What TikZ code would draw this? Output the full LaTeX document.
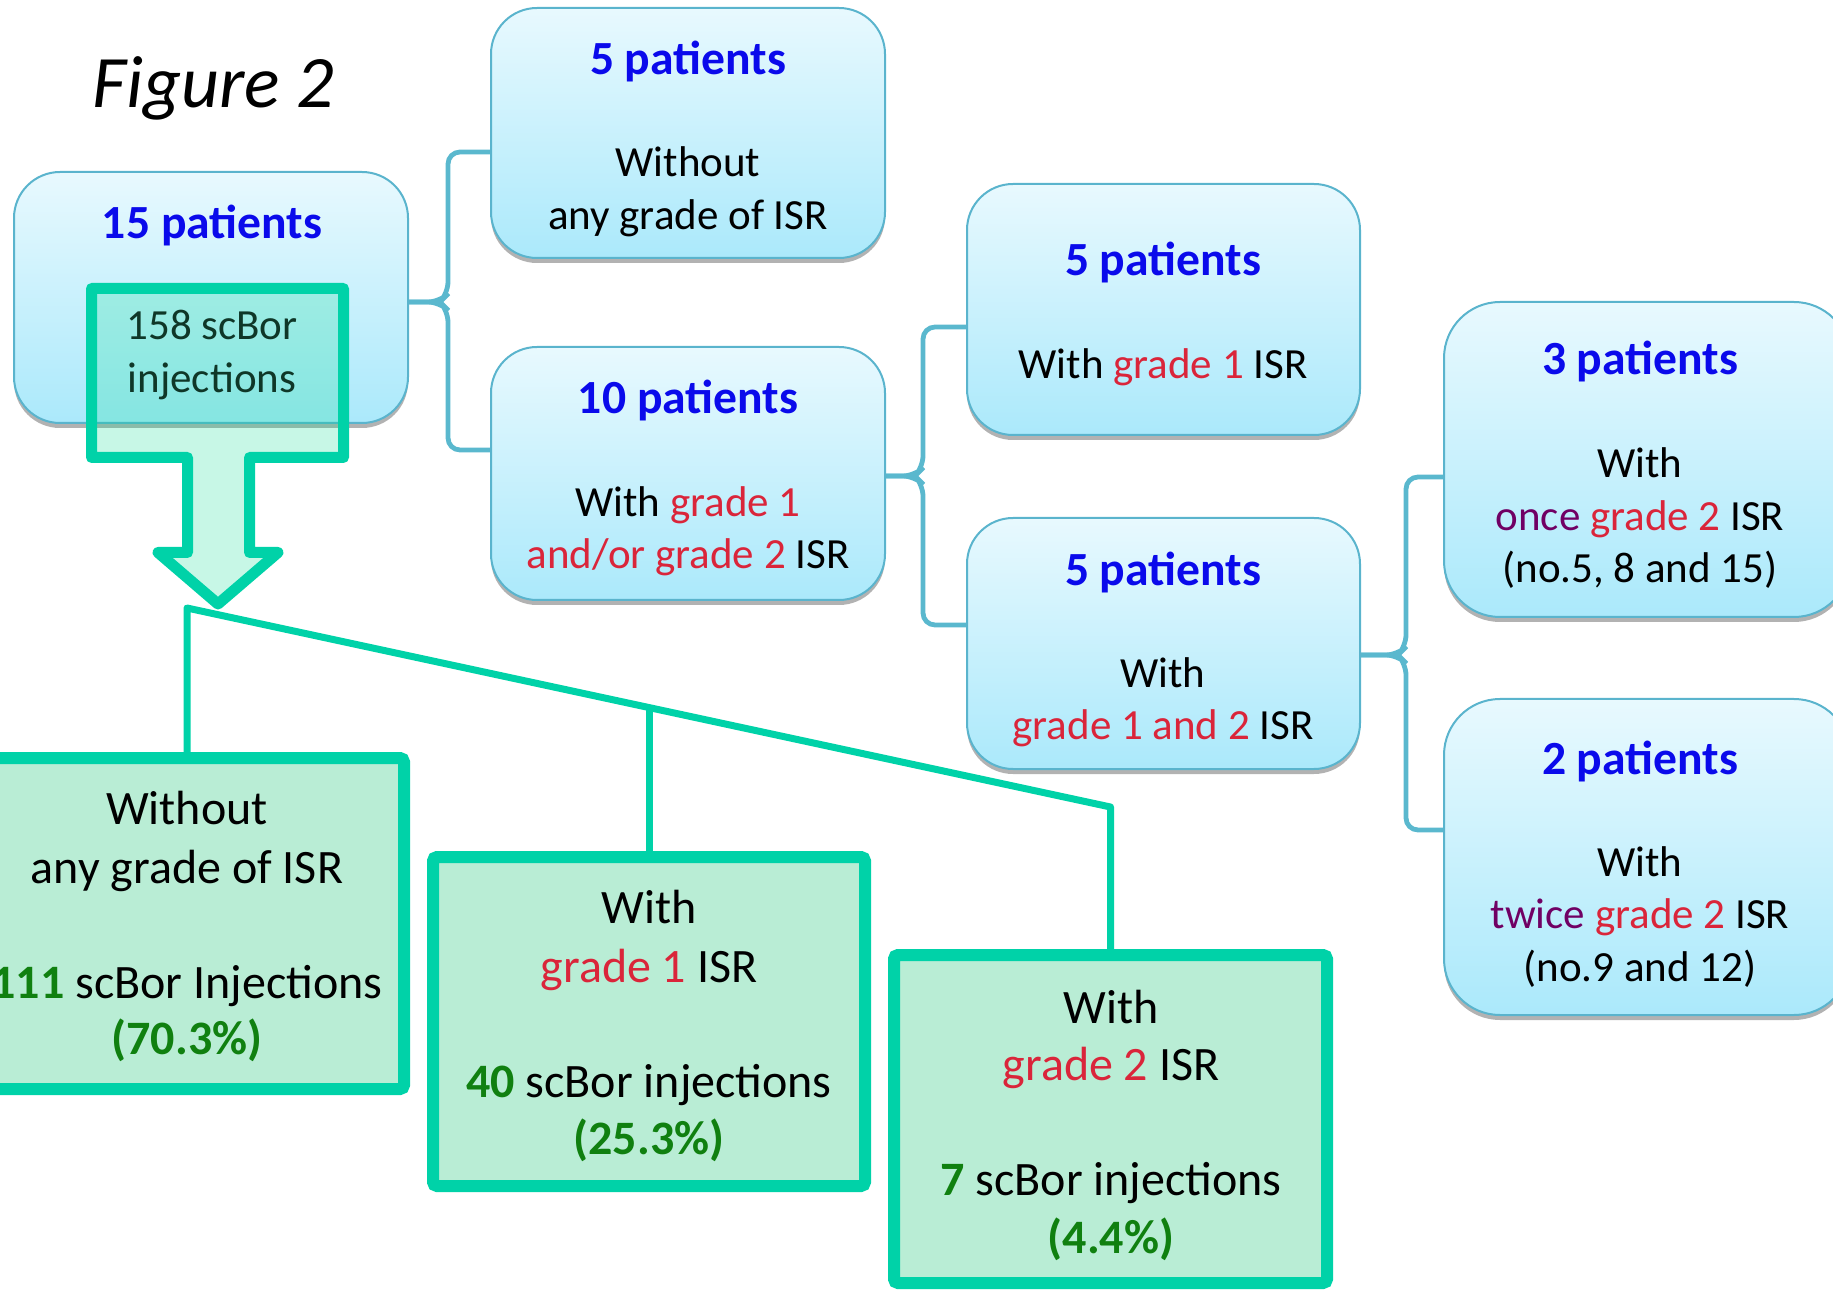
\documentclass[tikz,border=0pt]{standalone}
\usepackage{fontspec}
\setmainfont{Carlito}
\usetikzlibrary{shadows,calc}
\definecolor{tblue}{RGB}{10,10,235}
\definecolor{tred}{RGB}{218,37,58}
\definecolor{tpurple}{RGB}{112,0,100}
\definecolor{tgreen}{RGB}{16,128,16}
\definecolor{tdark}{RGB}{15,55,40}
\definecolor{boxline}{RGB}{90,180,205}
\definecolor{connblue}{RGB}{90,184,206}
\definecolor{gborder}{RGB}{0,210,168}
\definecolor{gfill}{RGB}{185,237,213}
\definecolor{boxtop}{RGB}{232,249,254}
\definecolor{boxbot}{RGB}{171,233,251}
\definecolor{arrowfill}{RGB}{0,220,140}
\pgfdeclarelayer{bg}
\pgfsetlayers{bg,main}
\begin{document}
\begin{tikzpicture}[x=0.5pt,y=-0.5pt,
  bluebox/.style={draw=boxline, line width=1pt, rounded corners=23pt,
    top color=boxtop, bottom color=boxbot, inner sep=0pt,
    drop shadow={shadow xshift=0pt, shadow yshift=-2.5pt, opacity=0.3, fill=black}},
  tallbox/.style={bluebox, rounded corners=28pt},
  greenbox/.style={draw=gborder, line width=6pt, fill=gfill, rounded corners=2pt, inner sep=0pt,
    drop shadow={shadow xshift=1pt, shadow yshift=-2pt, opacity=0.25, fill=black}},
  conn/.style={draw=connblue, line width=2.4pt, rounded corners=6pt},
  gline/.style={draw=gborder, line width=3.5pt},
  ttl/.style={anchor=base, inner sep=0pt, font=\fontsize{23.8}{28}\selectfont\bfseries, text=tblue},
  txt/.style={anchor=base, inner sep=0pt, font=\fontsize{21.5}{25}\selectfont},
  gtxt/.style={anchor=base, inner sep=0pt, font=\fontsize{24}{29}\selectfont}]
\useasboundingbox (0,0) rectangle (1833,1294);
\clip (0,0) rectangle (1833,1294);

% blue boxes
\node[bluebox, minimum width=197pt, minimum height=125.5pt] (A) at (211,297.5) {};
\node[bluebox, minimum width=197pt, minimum height=125pt] (B) at (688,133) {};
\node[bluebox, minimum width=197pt, minimum height=126.5pt] (C) at (688,473.5) {};
\node[bluebox, minimum width=196.5pt, minimum height=125.5pt] (D) at (1163.5,309.5) {};
\node[bluebox, minimum width=196.5pt, minimum height=125.5pt] (E) at (1163.5,643.5) {};
\node[tallbox, minimum width=203pt, minimum height=157.5pt] (F) at (1647,459.5) {};
\node[tallbox, minimum width=203pt, minimum height=158pt] (G) at (1647,857) {};

% brackets
\begin{pgfonlayer}{bg}
\draw[conn] (B.west |- 0,152) -- (448,152) -- (448,294) -- (440,302) -- (A.east |- 0,302);
\draw[conn] (A.east |- 0,302) -- (440,302) -- (448,310) -- (448,450) -- (C.west |- 0,450);
\draw[conn] (D.west |- 0,327) -- (923,327) -- (923,468) -- (915,476) -- (C.east |- 0,476);
\draw[conn] (C.east |- 0,476) -- (915,476) -- (923,484) -- (923,625) -- (E.west |- 0,625);
\draw[conn] (F.west |- 0,477) -- (1406,477) -- (1406,647) -- (1398,655) -- (E.east |- 0,655);
\draw[conn] (E.east |- 0,655) -- (1398,655) -- (1406,663) -- (1406,830) -- (G.west |- 0,830);
\end{pgfonlayer}

% blue box texts
\node[ttl] (At) at (212,239) {15 patients};

\node[ttl] (Bt) at (688,75) {5 patients};
\node[txt] (B1) at (688,177) {Without};
\node[txt] (B2) at (688,230) {any grade of ISR};

\node[ttl] (Ct) at (688,414) {10 patients};
\node[txt] (C1) at (688,517) {With \textcolor{tred}{grade 1}};
\node[txt] (C2) at (688,569) {\textcolor{tred}{and/or grade 2} ISR};

\node[ttl] (Dt) at (1163,276) {5 patients};
\node[txt] (D1) at (1163,379) {With \textcolor{tred}{grade 1} ISR};

\node[ttl] (Et) at (1163,586) {5 patients};
\node[txt] (E1) at (1163,688) {With};
\node[txt] (E2) at (1163,740) {\textcolor{tred}{grade 1 and 2} ISR};

\node[ttl] (Ft) at (1640,375) {3 patients};
\node[txt] (F1) at (1640,478) {With};
\node[txt] (F2) at (1640,531) {\textcolor{tpurple}{once} \textcolor{tred}{grade 2} ISR};
\node[txt] (F3) at (1640,583) {(no.5, 8 and 15)};

\node[ttl] (Gt) at (1640,774) {2 patients};
\node[txt] (G1) at (1640,876) {With};
\node[txt] (G2) at (1640,928) {\textcolor{tpurple}{twice} \textcolor{tred}{grade 2} ISR};
\node[txt] (G3) at (1640,981) {(no.9 and 12)};

% block arrow
\draw[draw=gborder, line width=5.5pt, fill=arrowfill, fill opacity=0.22, line join=round]
  (91.5,288.5) -- (343.5,288.5) -- (343.5,457.5) -- (249.5,457.5) -- (249.5,552.5)
  -- (278,552.5) -- (218,604) -- (158,552.5) -- (187.5,552.5) -- (187.5,457.5)
  -- (91.5,457.5) -- cycle;
\node[txt, text=tdark] (A1) at (212,340) {158 scBor};
\node[txt, text=tdark] (A2) at (212,393) {injections};

% green boxes
\node[greenbox, minimum width=217pt, minimum height=165.5pt] (H) at (187,923.5) {};
\node[greenbox, minimum width=216pt, minimum height=164.5pt] (I) at (649,1021.5) {};
\node[greenbox, minimum width=216.5pt, minimum height=164pt] (J) at (1110.5,1119) {};

\begin{pgfonlayer}{bg}
\coordinate (hub) at (H.north |- 0,608);
\coordinate (far) at (J.north |- 0,807);
\coordinate (mid) at ($(hub)!0.5003!(far)$);
\draw[gline, line join=round] (H.north) -- (hub) -- (far) -- (J.north);
\draw[gline] (I.north) -- (I.north |- mid);
\end{pgfonlayer}

\node[gtxt] (H1) at (187,824) {Without};
\node[gtxt] (H2) at (187,883) {any grade of ISR};
\node[gtxt] (H3) at (187,998) {\textcolor{tgreen}{\bfseries 111} scBor Injections};
\node[gtxt, text=tgreen, font=\fontsize{24}{29}\selectfont\bfseries] (H4) at (187,1054) {(70.3\%)};

\node[gtxt] (I1) at (649,923) {With};
\node[gtxt] (I2) at (649,982) {\textcolor{tred}{grade 1} ISR};
\node[gtxt] (I3) at (649,1097) {\textcolor{tgreen}{\bfseries 40} scBor injections};
\node[gtxt, text=tgreen, font=\fontsize{24}{29}\selectfont\bfseries] (I4) at (649,1154) {(25.3\%)};

\node[gtxt] (J1) at (1111,1023) {With};
\node[gtxt] (J2) at (1111,1080) {\textcolor{tred}{grade 2} ISR};
\node[gtxt] (J3) at (1111,1195) {\textcolor{tgreen}{\bfseries 7} scBor injections};
\node[gtxt, text=tgreen, font=\fontsize{24}{29}\selectfont\bfseries] (J4) at (1111,1253) {(4.4\%)};

% title
\node[anchor=base west, inner sep=0pt, font=\fontsize{37}{44}\selectfont\itshape] (fig) at (92,108) {Figure 2};
\end{tikzpicture}
\end{document}
